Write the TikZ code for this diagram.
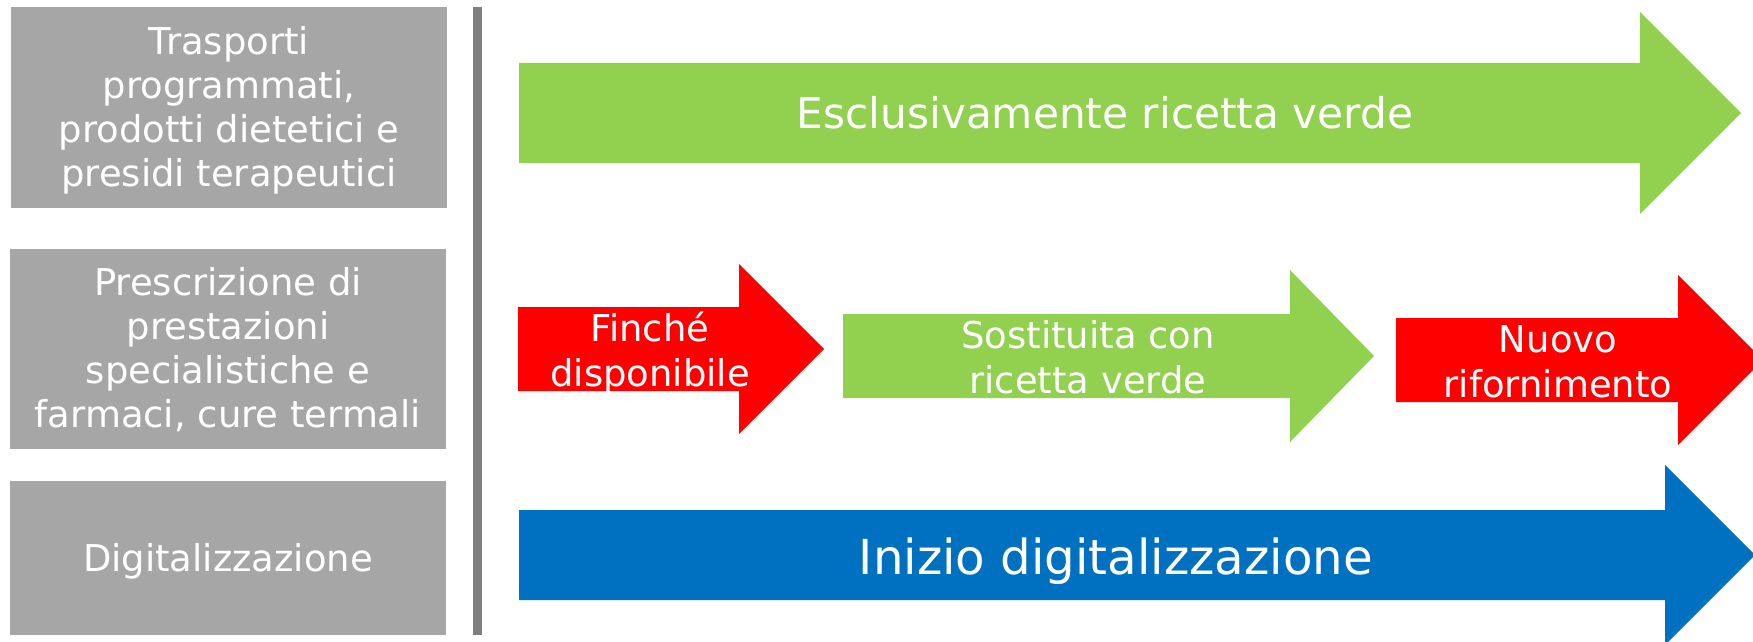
\documentclass[tikz,border=0pt]{standalone}
\usepackage{fontspec}
\setmainfont{DejaVu Sans}
\usepackage{tikz}

\definecolor{boxgray}{RGB}{166,166,166}
\definecolor{linegray}{RGB}{127,127,127}
\definecolor{ricettagreen}{RGB}{146,208,80}
\definecolor{ricettared}{RGB}{255,0,0}
\definecolor{digiblue}{RGB}{0,112,192}

\tikzset{
  catbox/.style={fill=boxgray, text=white, align=center, inner sep=0pt, minimum width=327pt,
    font=\fontsize{27.7}{33}\selectfont},
  arrowtext/.style={text=white, align=center, inner sep=0pt,
    font=\fontsize{27.7}{33.4}\selectfont}
}

\begin{document}
\begin{tikzpicture}[x=0.75pt,y=0.75pt,yscale=-1,xscale=1]
\clip (0,0) rectangle (1753,642);

%Shape: Rectangle [trasporti]
\fill [boxgray] (11,7) rectangle (447,208) ;
\draw (229,110.5) node [catbox] (trasporti) {Trasporti\\programmati,\\prodotti dietetici e\\presidi terapeutici};
%Shape: Rectangle [prescrizione]
\fill [boxgray] (10,249) rectangle (446,449) ;
\draw (228,350) node [catbox] (prescrizione) {Prescrizione di\\prestazioni\\specialistiche e\\farmaci, cure termali};
%Shape: Rectangle [digitale]
\fill [boxgray] (10,481) rectangle (446,635) ;
\draw (228,561) node [catbox] (digitale) {Digitalizzazione};

%Straight Lines [separatore]
\draw [color=linegray, line width=6.75pt] (477,7) -- (477,635) ;

%Shape: Right Arrow [verde lungo]
\fill [ricettagreen] (519,63) -- (1640,63) -- (1640,12) -- (1741,113) -- (1640,214) -- (1640,163) -- (519,163) -- cycle ;
%Shape: Right Arrow [finche]
\fill [ricettared] (518,307) -- (739,307) -- (739,264) -- (824,349) -- (739,434) -- (739,391) -- (518,391) -- cycle ;
%Shape: Right Arrow [sostituita]
\fill [ricettagreen] (843,314) -- (1290,314) -- (1290,270) -- (1374,356) -- (1290,442) -- (1290,398) -- (843,398) -- cycle ;
%Shape: Right Arrow [nuovo]
\fill [ricettared] (1396,318) -- (1678,318) -- (1678,275) -- (1763,360) -- (1678,445) -- (1678,402) -- (1396,402) -- cycle ;
%Shape: Right Arrow [digitalizzazione]
\fill [digiblue] (519,510) -- (1665,510) -- (1665,465) -- (1755,555) -- (1665,645) -- (1665,600) -- (519,600) -- cycle ;

% Text Node
\draw (1105,113) node [arrowtext, font=\fontsize{31.7}{38}\selectfont] (esclusiva) {Esclusivamente ricetta verde};
% Text Node
\draw (650,353) node [arrowtext] (finche) {Finché\\disponibile};
% Text Node
\draw (1088,357) node [arrowtext] (sostituita) {Sostituita con\\ricetta verde};
% Text Node
\draw (1558,362) node [arrowtext] (nuovo) {Nuovo\\rifornimento};
% Text Node
\draw (1116,561) node [arrowtext, font=\fontsize{36.2}{43}\selectfont] (inizio) {Inizio digitalizzazione};

\end{tikzpicture}
\end{document}
